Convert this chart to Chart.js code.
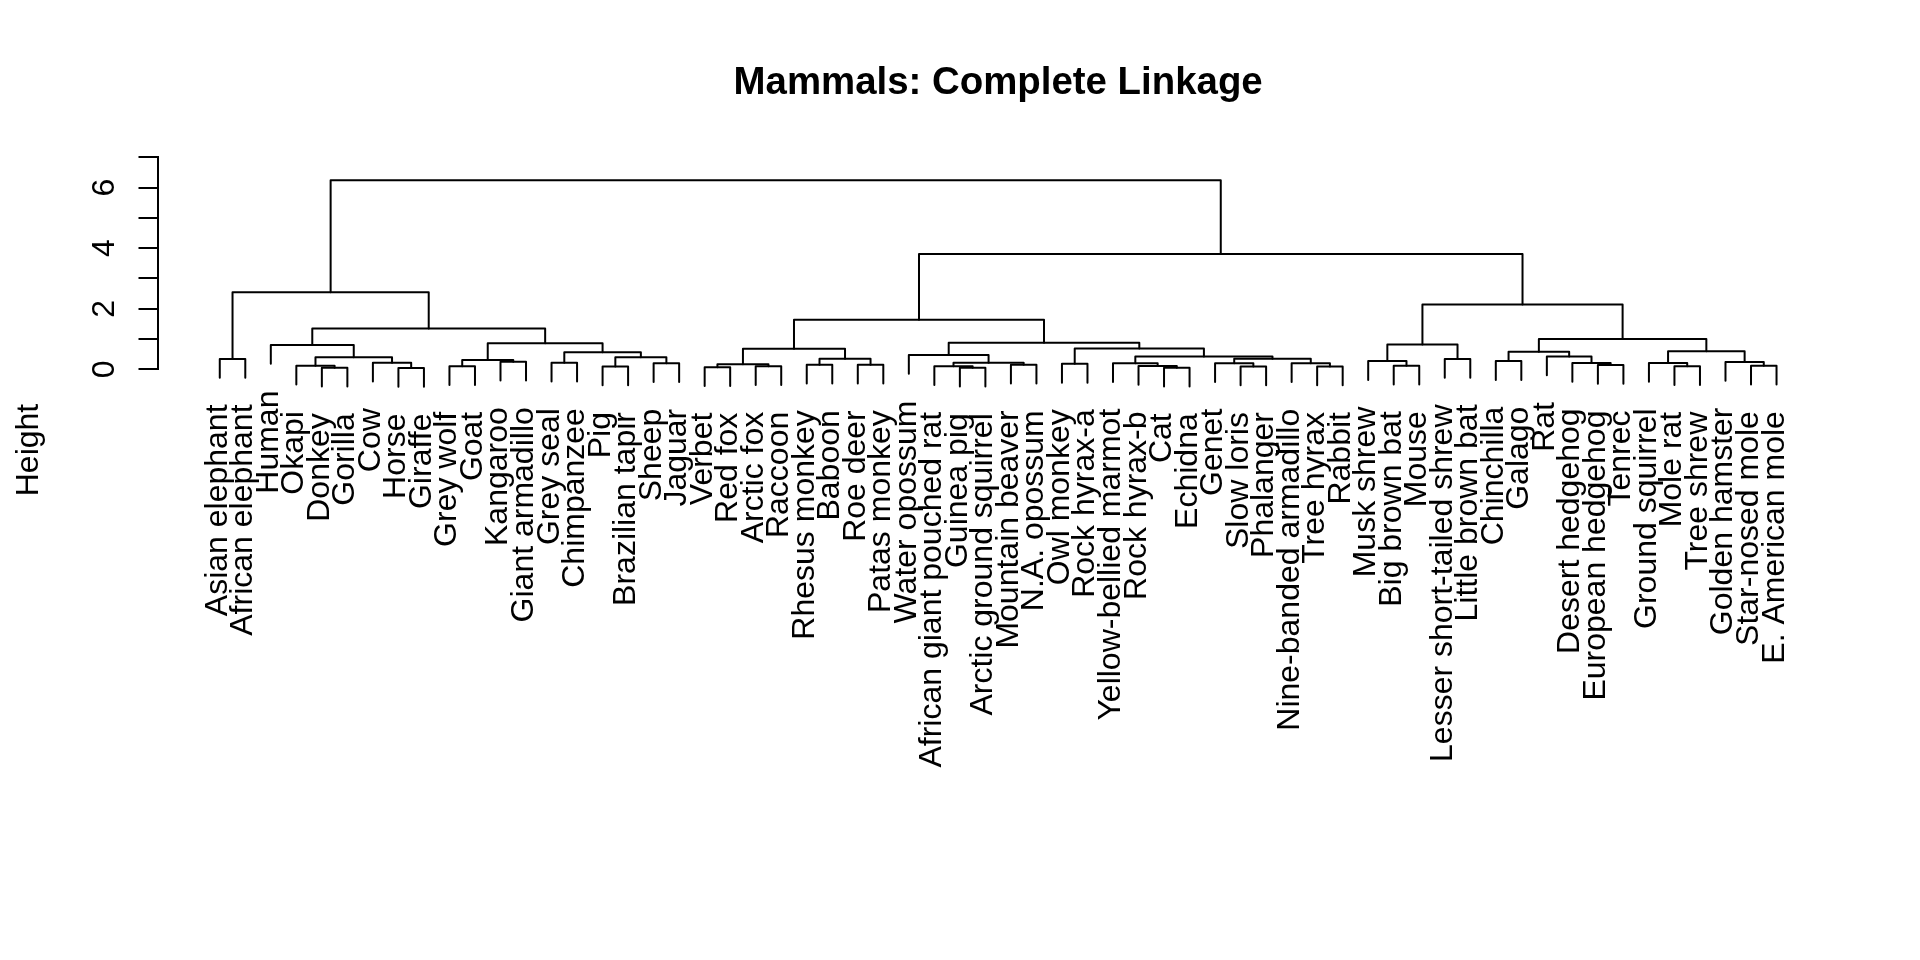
<!DOCTYPE html>
<html>
<head>
<meta charset="utf-8">
<title>Mammals: Complete Linkage</title>
<script src="https://cdn.jsdelivr.net/npm/chart.js@4.4.1/dist/chart.umd.min.js"></script>
<style>
  html, body { margin: 0; padding: 0; background: #fff; }
  canvas { display: block; }
</style>
</head>
<body>
<canvas id="dendro" width="1920" height="960"></canvas>
<script>
// folhas na ordem do dendrograma
const leafLabels = [
  "Asian elephant", "African elephant", "Human", "Okapi", "Donkey", "Gorilla",
  "Cow", "Horse", "Giraffe", "Grey wolf", "Goat", "Kangaroo", "Giant armadillo",
  "Grey seal", "Chimpanzee", "Pig", "Brazilian tapir", "Sheep", "Jaguar",
  "Verbet", "Red fox", "Arctic fox", "Raccoon", "Rhesus monkey", "Baboon",
  "Roe deer", "Patas monkey", "Water opossum", "African giant pouched rat",
  "Guinea pig", "Arctic ground squirrel", "Mountain beaver", "N.A. opossum",
  "Owl monkey", "Rock hyrax-a", "Yellow-bellied marmot", "Rock hyrax-b", "Cat",
  "Echidna", "Genet", "Slow loris", "Phalanger", "Nine-banded armadillo",
  "Tree hyrax", "Rabbit", "Musk shrew", "Big brown bat", "Mouse",
  "Lesser short-tailed shrew", "Little brown bat", "Chinchilla", "Galago", "Rat",
  "Desert hedgehog", "European hedgehog", "Tenrec", "Ground squirrel", "Mole rat",
  "Tree shrew", "Golden hamster", "Star-nosed mole", "E. American mole"
];

// formato do hclust do R: negativo = folha (posição), positivo = fusão anterior
const mergeLeft = [
  -1, -5, -4, -8, -7, 3, -3, -10, -12, 8, -14, -16, -18, 12, 11, 10, 7, 1,
  -20, -22, 19, -24, -26, 22, 21, -30, -29, -32, 27, -28, -34, -38, -37, -36,
  -41, -40, -44, -43, 36, 34, 31, 30, 25, -47, -46, -49, 45, -51, -55, -54,
  -53, 48, -58, -57, -61, -60, 54, 52, 47, 43, 18
];
const mergeRight = [
  -2, -6, 2, -9, 4, 5, 6, -11, -13, 9, -15, -17, -19, 13, 14, 15, 16, 17,
  -21, -23, 20, -25, -27, 23, 24, -31, 26, -33, 28, 29, -35, -39, 32, 33,
  -42, 35, -45, 37, 38, 39, 40, 41, 42, -48, 44, -50, 46, -52, -56, 49,
  50, 51, -59, 53, -62, 55, 56, 57, 58, 59, 60
];
const mergeHeight = [
  0.34, 0.05, 0.12, 0.04, 0.22, 0.40, 0.80, 0.10, 0.25, 0.31,
  0.22, 0.09, 0.20, 0.40, 0.56, 0.86, 1.35, 2.54, 0.07, 0.10,
  0.17, 0.15, 0.15, 0.35, 0.68, 0.05, 0.10, 0.15, 0.22, 0.47,
  0.18, 0.05, 0.11, 0.20, 0.09, 0.20, 0.09, 0.20, 0.35, 0.42,
  0.69, 0.88, 1.64, 0.12, 0.27, 0.34, 0.82, 0.27, 0.14, 0.21,
  0.42, 0.58, 0.10, 0.21, 0.12, 0.24, 0.60, 1.00, 2.14, 3.81, 6.24
];

const yTickLabels = [0, 2, 4, 6];
const mainTitle = "Mammals: Complete Linkage";
const yTitle = "Height";

// hang = 0.1 da amplitude das alturas (padrão do plot.hclust)
const hang = 0.1 * (Math.max(...mergeHeight) - Math.min(...mergeHeight));

const mergeX = [];
const leafBottom = new Array(leafLabels.length);

function childX(c) {
  return c < 0 ? -c : mergeX[c - 1];
}

function childTop(c, h) {
  if (c < 0) {
    leafBottom[-c - 1] = h - hang;
    return h - hang;
  }
  return mergeHeight[c - 1];
}

const datasets = mergeHeight.map((h, k) => {
  const a = mergeLeft[k], b = mergeRight[k];
  const xa = childX(a), xb = childX(b);
  mergeX[k] = (xa + xb) / 2;
  return {
    data: [
      { x: xa, y: childTop(a, h) },
      { x: xa, y: h },
      { x: xb, y: h },
      { x: xb, y: childTop(b, h) }
    ],
    borderColor: '#000',
    borderWidth: 2,
    borderCapStyle: 'round',
    borderJoinStyle: 'round',
    pointRadius: 0,
    fill: false,
    tension: 0,
    clip: false
  };
});

const fontFamily = '"Liberation Sans", Arial, Helvetica, sans-serif';

// textos no estilo do R (rótulos girados, título, eixo)
const rTexts = {
  id: 'rTexts',
  afterDraw(chart) {
    const { ctx, scales: { x, y } } = chart;
    ctx.save();
    ctx.fillStyle = '#000';
    ctx.font = '32px ' + fontFamily;

    leafLabels.forEach((lab, i) => {
      const px = x.getPixelForValue(i + 1);
      const py = y.getPixelForValue(leafBottom[i]) + 26.7;
      ctx.save();
      ctx.translate(px, py);
      ctx.rotate(-Math.PI / 2);
      ctx.textAlign = 'right';
      ctx.textBaseline = 'alphabetic';
      ctx.fillText(lab, 0, 7);
      ctx.restore();
    });

    yTickLabels.forEach(v => {
      ctx.save();
      ctx.translate(114, y.getPixelForValue(v));
      ctx.rotate(-Math.PI / 2);
      ctx.textAlign = 'center';
      ctx.textBaseline = 'alphabetic';
      ctx.fillText(String(v), 0, 0);
      ctx.restore();
    });

    ctx.save();
    ctx.translate(38, 450);
    ctx.rotate(-Math.PI / 2);
    ctx.textAlign = 'center';
    ctx.fillText(yTitle, 0, 0);
    ctx.restore();

    ctx.font = 'bold 38.4px ' + fontFamily;
    ctx.textAlign = 'center';
    ctx.fillText(mainTitle, (chart.chartArea.left + chart.chartArea.right) / 2, 94);
    ctx.restore();
  }
};

new Chart(document.getElementById('dendro').getContext('2d'), {
  type: 'line',
  data: { datasets },
  options: {
    responsive: false,
    animation: false,
    devicePixelRatio: 1,
    layout: { padding: { top: 157.3, bottom: 590.7, left: 0, right: 81.2 } },
    plugins: {
      legend: { display: false },
      tooltip: { enabled: false }
    },
    scales: {
      x: { type: 'linear', display: false, min: -1.44, max: 64.44 },
      y: {
        type: 'linear',
        min: 0,
        max: 7,
        afterFit(scale) { scale.width = 157.5; },
        ticks: { display: false, stepSize: 1 },
        grid: { drawOnChartArea: false, drawTicks: true, tickLength: 19, color: '#000', lineWidth: 2 },
        border: { display: true, color: '#000', width: 2 }
      }
    }
  },
  plugins: [rTexts]
});
</script>
</body>
</html>
